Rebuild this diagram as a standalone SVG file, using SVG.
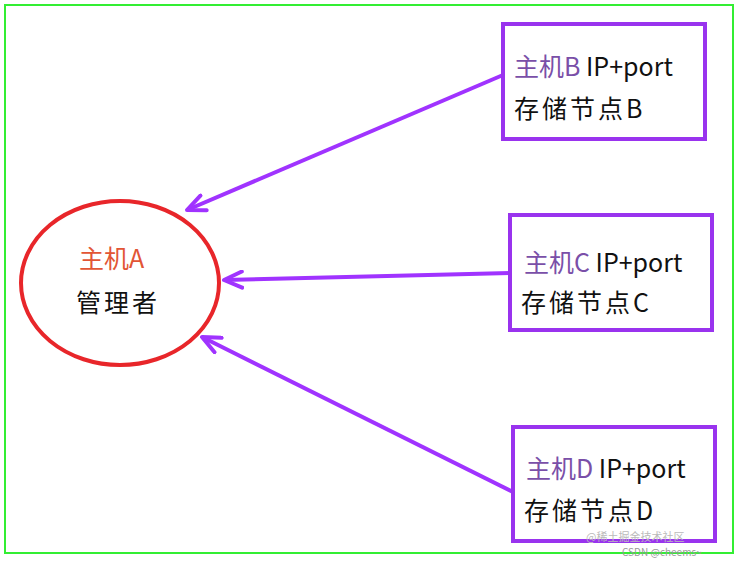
<svg xmlns="http://www.w3.org/2000/svg" width="739" height="562" viewBox="0 0 739 562">
<style>
.box{fill:#fff;stroke:#9933ee;stroke-width:4}
.t{font-family:"Noto Sans CJK SC","Noto Sans",sans-serif;font-size:25px;fill:#111}
.p{fill:#7a4fa8}
.c{stroke:#a033ff;stroke-width:4;fill:none}
</style>
<defs>
<marker id="a" viewBox="0 0 22 20" refX="20" refY="10" markerWidth="22" markerHeight="20" orient="auto" markerUnits="userSpaceOnUse"><path d="M2,2 L20,10 L2,18" fill="none" stroke="#a033ff" stroke-width="4" stroke-linecap="round" stroke-linejoin="round"/></marker></defs>
<rect x="5" y="5" width="728" height="548" fill="#fff" stroke="#33ee33" stroke-width="2"/>
<g id="A"><ellipse cx="120" cy="283" rx="99" ry="82" fill="#fff" stroke="#e8262a" stroke-width="4"/>
<text class="t" x="79" y="268" style="fill:#e25535">主机A</text>
<text class="t" x="76" y="312" letter-spacing="3">管理者</text></g>
<g id="connectors">
<line class="c" x1="503" y1="75" x2="187" y2="210" marker-end="url(#a)"/>
<line class="c" x1="510" y1="273" x2="224" y2="280" marker-end="url(#a)"/>
<line class="c" x1="513" y1="492" x2="202" y2="337" marker-end="url(#a)"/>
</g>
<g id="B"><rect class="box" x="503" y="24" width="202" height="115"/>
<text class="t" x="514" y="76"><tspan class="p">主机B</tspan> IP+port</text>
<text class="t" x="514" y="118" letter-spacing="3">存储节点B</text></g>
<g id="C"><rect class="box" x="510" y="215" width="202" height="115"/>
<text class="t" x="524" y="272"><tspan class="p">主机C</tspan> IP+port</text>
<text class="t" x="521" y="312" letter-spacing="3">存储节点C</text></g>
<g id="D"><rect class="box" x="513" y="427" width="202" height="114"/>
<text class="t" x="526" y="478"><tspan class="p">主机D</tspan> IP+port</text>
<text class="t" x="524" y="520" letter-spacing="3">存储节点D</text></g>
<text x="586" y="541" font-family="Noto Sans CJK SC,sans-serif" font-size="11" fill="#bbb">@稀土掘金技术社区</text>
<text x="622" y="556" font-family="Noto Sans CJK SC,sans-serif" font-size="10" fill="#999">CSDN @cheems~</text>
</svg>
